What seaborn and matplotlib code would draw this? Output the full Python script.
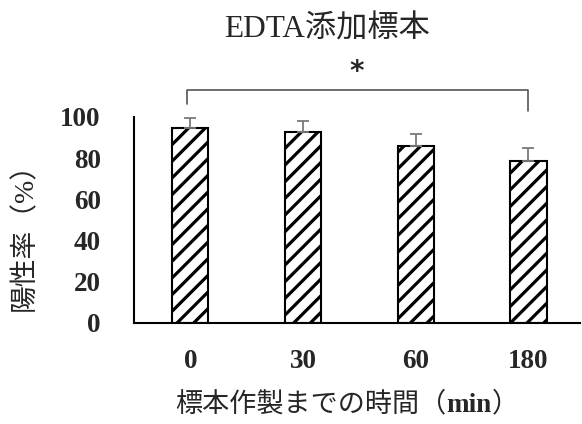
import numpy as np
import pandas as pd
import matplotlib
matplotlib.use("Agg")
import matplotlib.pyplot as plt
from matplotlib.offsetbox import TextArea, HPacker, AnnotationBbox
import seaborn as sns

# data
times = ["0", "30", "60", "180"]
positive_rate = [94.5, 92.9, 86.1, 78.8]
sd = [5.2, 5.2, 5.6, 6.3]

sns.set_style("white")
plt.rcParams["font.family"] = ["Liberation Serif", "Noto Sans CJK JP"]
plt.rcParams["hatch.linewidth"] = 2.3
plt.rcParams["hatch.color"] = "black"

df = pd.DataFrame({"time": times, "rate": positive_rate})

fig = plt.figure(figsize=(5.82, 4.24), dpi=100)
ax = fig.add_axes([134 / 582, 1 - 323 / 424, (580 - 134) / 582, (323 - 117) / 424])

sns.barplot(data=df, x="time", y="rate", color="white", edgecolor="black",
            linewidth=1.5, width=0.32, hatch="//", errorbar=None, ax=ax)

xs = np.arange(len(times))
ax.errorbar(xs, positive_rate, yerr=[np.zeros(len(sd)), sd], fmt="none",
            ecolor="#7a7a7a", elinewidth=1.3, capsize=4.5, capthick=1.3,
            clip_on=False, zorder=1)

ax.set_ylim(0, 100)
ax.set_xlim(-0.5, 3.457)
ax.set_yticks([0, 20, 40, 60, 80, 100])
ax.tick_params(axis="y", direction="in", length=8, width=1.2, pad=24,
               labelsize=19.5)
ax.tick_params(axis="x", length=0, pad=19, labelsize=19.5)
for lab in ax.get_xticklabels() + ax.get_yticklabels():
    lab.set_fontweight("bold")
    lab.set_fontfamily("Liberation Serif")
for lab in ax.get_yticklabels():
    lab.set_horizontalalignment("right")

sns.despine(ax=ax)
ax.spines["left"].set_linewidth(1.5)
ax.spines["bottom"].set_linewidth(1.5)
ax.spines["left"].set_color("black")
ax.spines["bottom"].set_color("black")

ax.set_xlabel("")
ax.set_ylabel("")

# significance bracket between 0 and 180 min
ax.plot([-0.03, -0.03, 3.0, 3.0], [106.5, 113, 113, 103], color="#555555",
        lw=1.2, clip_on=False)
ax.text(1.48, 115, "*", ha="center", va="bottom", fontsize=20,
        fontweight="bold", family="DejaVu Sans")

fig.text(327 / 582, 1 - 30 / 424, "EDTA添加標本", ha="center", va="center",
         fontsize=22.5)

# x label with bold "min"
parts = [TextArea("標本作製までの時間（", textprops=dict(fontsize=19.5)),
         TextArea("min", textprops=dict(fontsize=19.5, fontweight="bold")),
         TextArea("）", textprops=dict(fontsize=19.5))]
xlab = HPacker(children=parts, align="baseline", pad=0, sep=0)
fig.add_artist(AnnotationBbox(xlab, (347 / 582, 1 - 405 / 424),
                              xycoords="figure fraction", frameon=False,
                              box_alignment=(0.5, 0.5)))

fig.text(25 / 582, 1 - 230 / 424, "陽性率（%）", ha="center", va="center",
         fontsize=20, rotation=90)

fig.savefig("out.png", dpi=100)
